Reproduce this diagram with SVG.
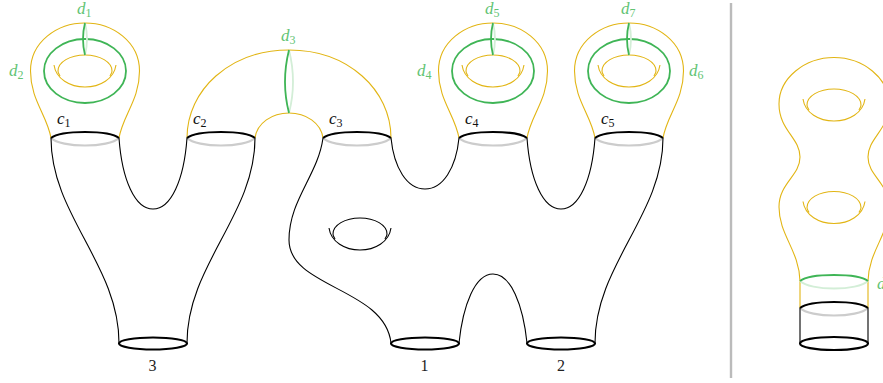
<svg xmlns="http://www.w3.org/2000/svg" width="883" height="383" viewBox="0 0 883 383">
<style>
.y{fill:none;stroke:#e2b514;stroke-width:1.1}
.k{fill:none;stroke:#000;stroke-width:1.1}
.kb{fill:none;stroke:#000;stroke-width:2.2}
.gy{fill:none;stroke:#cccccc;stroke-width:2.2}
.g{fill:none;stroke:#3fb556;stroke-width:1.8}
.gl{fill:none;stroke:#d3eed7;stroke-width:1.8}
text{font-family:"Liberation Serif",serif;font-size:17px}
.lg{fill:#62c474;font-style:italic}
.lk{fill:#111;font-style:italic}
.n{fill:#222;font-size:16px}
.s{font-size:12px;font-style:normal}
</style>
<defs>
<g id="hole">
<path d="M-31 -6 C-29 8 -15 16 0 16 C15 16 29 8 31 -6"/>
<path d="M-27 0 C-27 -9 -15 -16 0 -16 C15 -16 27 -9 27 0 C27 2 26 3 25 5 M-27 0 C-27 2 -26 3 -25 5"/>
</g>
<g id="bulb">
<path class="y" d="M-34 67 C-38 44 -54.500 29 -54.500 0 C-54.500 -29 -28 -48 0 -48 C28 -48 54.500 -29 54.500 0 C54.500 29 38 44 34 67"/>
<ellipse class="g" cx="0" cy="0" rx="41" ry="32"/>
<use href="#hole" class="y"/>
<path class="gl" d="M0 -48 Q4 -32 0 -16"/>
<path class="g" d="M0 -48 Q-4 -32 0 -16"/>
</g>
<g id="cuff">
<path class="gy" d="M-34 0 C-24 10 24 10 34 0"/>
<path class="kb" d="M-34 0 C-24 -8 24 -8 34 0"/>
</g>
</defs>
<g id="separator"><line x1="731" y1="3" x2="731" y2="378" stroke="#bbbbbb" stroke-width="2.400"/></g>
<g id="surface-left">
<g id="handle1"><use href="#bulb" x="85" y="71"/></g>
<g id="handle5"><use href="#bulb" x="493" y="71"/></g>
<g id="handle7"><use href="#bulb" x="629" y="71"/></g>
<g id="arch">
<path class="y" d="M187 138 C187 90 230 50 289 50 C348 50 391 90 391 138"/>
<path class="y" d="M255 138 C257 123 272 113 289 113 C306 113 321 123 323 138"/>
<path class="gl" d="M289 50 Q297 82 289 113"/>
<path class="g" d="M289 50 Q281 82 289 113" stroke-width="2"/>
</g>
<g id="cuffs">
<use href="#cuff" x="85" y="138"/>
<use href="#cuff" x="221" y="138"/>
<use href="#cuff" x="357" y="138"/>
<use href="#cuff" x="493" y="138"/>
<use href="#cuff" x="629" y="138"/>
</g>
<g id="body">
<path class="k" d="M51 138 C51 215 119 265 119 343"/>
<path class="k" d="M255 138 C255 215 187 265 187 343"/>
<path class="k" d="M663 138 C663 215 595 265 595 343"/>
<path class="k" d="M119 138 C122 180 135 209 153 209 C171 209 184 180 187 138"/>
<path class="k" d="M391 138 C394 168 407 189 425 189 C443 189 456 168 459 138"/>
<path class="k" d="M527 138 C530 180 543 209 561 209 C579 209 592 180 595 138"/>
<path class="k" d="M323 138 C318 175 289 200 289 240 C289 288 385 288 391 343"/>
<path class="k" d="M459 343 C463 305 475 274 493 274 C511 274 523 305 527 343"/>
<use href="#hole" x="360" y="234" class="k"/>
<ellipse class="kb" cx="153" cy="343.500" rx="34" ry="6"/>
<ellipse class="kb" cx="425" cy="343.500" rx="34" ry="6"/>
<ellipse class="kb" cx="561" cy="343.500" rx="34" ry="6"/>
</g>
</g>
<g id="surface-right">
<path class="y" d="M800 281 C799 250 779 235 779 207 C779 183 800 176 800 157 C800 138 779 130 779 104 C779 78 805 57.500 834 57.500 C863 57.500 889 78 889 104 C889 130 868 138 868 157 C868 176 889 183 889 207 C889 235 869 250 868 281"/>
<path class="y" d="M800 281 V308 M868 281 V308"/>
<use href="#hole" x="834" y="105" class="y"/>
<use href="#hole" x="834" y="207.500" class="y"/>
<path class="gl" d="M800 281 C810 291 858 291 868 281"/>
<path class="g" d="M800 281 C810 273 858 273 868 281"/>
<use href="#cuff" x="834" y="308"/>
<path class="k" d="M800 308 V343 M868 308 V343"/>
<ellipse class="kb" cx="834" cy="343.500" rx="34" ry="6.500"/>
</g>
<g id="labels">
<text class="lg" x="77" y="14">d<tspan class="s" dy="3">1</tspan></text>
<text class="lg" x="9" y="76">d<tspan class="s" dy="3">2</tspan></text>
<text class="lg" x="281" y="41">d<tspan class="s" dy="3">3</tspan></text>
<text class="lg" x="417" y="76">d<tspan class="s" dy="3">4</tspan></text>
<text class="lg" x="485" y="14">d<tspan class="s" dy="3">5</tspan></text>
<text class="lg" x="689" y="76">d<tspan class="s" dy="3">6</tspan></text>
<text class="lg" x="621" y="14">d<tspan class="s" dy="3">7</tspan></text>
<text class="lg" x="877" y="289">d</text>
<text class="lk" x="57" y="124">c<tspan class="s" dy="3">1</tspan></text>
<text class="lk" x="193" y="124">c<tspan class="s" dy="3">2</tspan></text>
<text class="lk" x="329" y="124">c<tspan class="s" dy="3">3</tspan></text>
<text class="lk" x="465" y="124">c<tspan class="s" dy="3">4</tspan></text>
<text class="lk" x="601" y="124">c<tspan class="s" dy="3">5</tspan></text>
<text class="n" x="152.500" y="371" text-anchor="middle">3</text>
<text class="n" x="424.500" y="371" text-anchor="middle">1</text>
<text class="n" x="561" y="371" text-anchor="middle">2</text>
</g>
</svg>
